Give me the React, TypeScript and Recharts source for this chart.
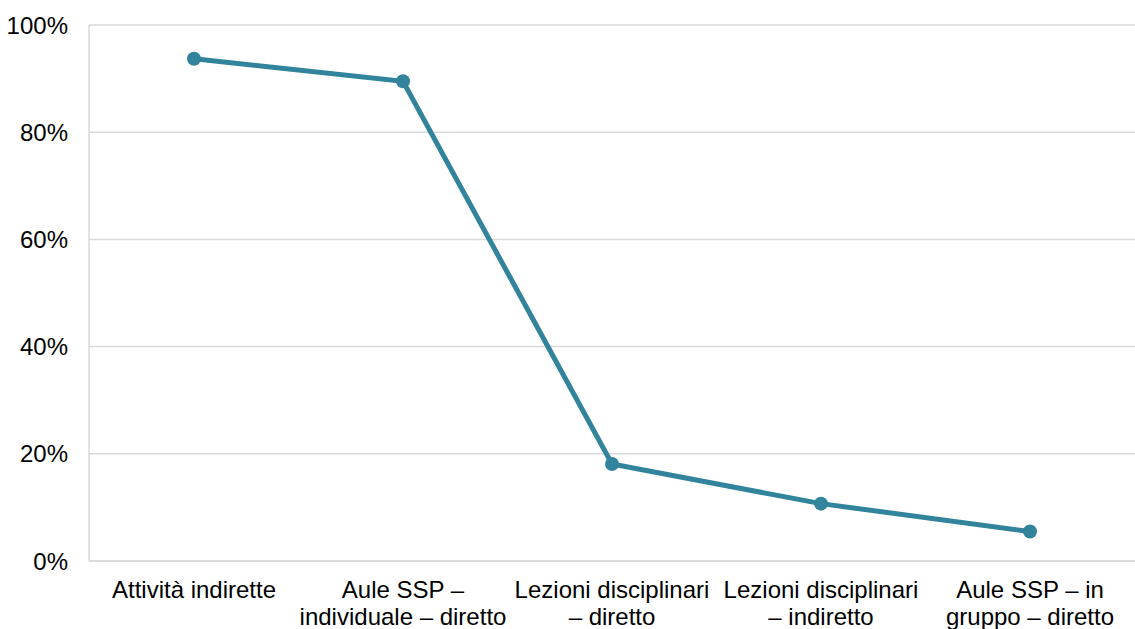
import { CartesianGrid, Line, LineChart, XAxis, YAxis } from "recharts";

const categories = [
  "Attività indirette",
  "Aule SSP –\nindividuale – diretto",
  "Lezioni disciplinari\n– diretto",
  "Lezioni disciplinari\n– indiretto",
  "Aule SSP – in\ngruppo – diretto",
];
const shares = [0.937, 0.895, 0.181, 0.107, 0.055];
const yTicks = [0, 0.2, 0.4, 0.6, 0.8, 1];

const data = categories.map((name, i) => ({ name, share: shares[i] }));

const LINE_COLOR = "#31849B";
const GRID_COLOR = "#d9d9d9";
const FONT = "'Liberation Sans', Arial, sans-serif";

function CategoryTick({ x, y, payload }: any) {
  const lines = String(payload.value).split("\n");
  return (
    <text x={x} y={y} textAnchor="middle" fill="#000" fontSize={24} fontFamily={FONT}>
      {lines.map((line, i) => (
        <tspan key={i} x={x} dy={i === 0 ? 29 : 27}>
          {line}
        </tspan>
      ))}
    </text>
  );
}

export default function App() {
  return (
    <div style={{ position: "fixed", left: 0, top: 0, background: "#fff" }}>
      <LineChart width={1135} height={629} data={data} margin={{ top: 25, right: 0, bottom: 0, left: 0 }}>
        <CartesianGrid stroke={GRID_COLOR} strokeWidth={1.5} vertical={false} />
        <XAxis
          dataKey="name"
          interval={0}
          height={68}
          padding={{ left: 105, right: 105 }}
          tickLine={false}
          axisLine={{ stroke: GRID_COLOR, strokeWidth: 1.5 }}
          tick={<CategoryTick />}
        />
        <YAxis
          width={89}
          domain={[0, 1]}
          ticks={yTicks}
          tickFormatter={(v) => `${Math.round(v * 100)}%`}
          tickLine={false}
          tickMargin={15}
          axisLine={{ stroke: GRID_COLOR, strokeWidth: 1.5 }}
          tick={{ fill: "#000", fontSize: 24, fontFamily: FONT }}
        />
        <Line
          type="linear"
          dataKey="share"
          stroke={LINE_COLOR}
          strokeWidth={5}
          dot={{ r: 7, fill: LINE_COLOR, stroke: LINE_COLOR, strokeWidth: 0 }}
          activeDot={false}
          isAnimationActive={false}
        />
      </LineChart>
    </div>
  );
}
